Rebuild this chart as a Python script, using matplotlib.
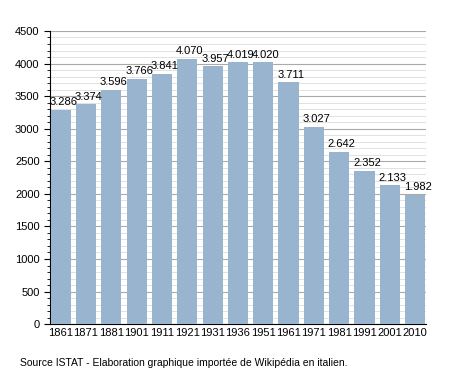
import matplotlib
matplotlib.use("Agg")
import matplotlib.pyplot as plt
from matplotlib.ticker import MultipleLocator

years = ['1861', '1871', '1881', '1901', '1911', '1921', '1931', '1936',
         '1951', '1961', '1971', '1981', '1991', '2001', '2010']
population = [3286, 3374, 3596, 3766, 3841, 4070, 3957, 4019,
              4020, 3711, 3027, 2642, 2352, 2133, 1982]

plt.rcParams['font.family'] = ['Liberation Sans', 'DejaVu Sans']

fig = plt.figure(figsize=(4.55, 3.73), dpi=100)
ax = fig.add_axes([0.110, 0.131, 0.826, 0.786])

x = range(len(years))
ax.bar(x, population, width=0.8, color='#98b4cf', zorder=3)

for i, v in enumerate(population):
    label = f"{v // 1000}.{v % 1000:03d}"
    ax.text(i + 0.1, v + 40, label, ha='center', va='bottom', fontsize=8, zorder=4)

ax.set_xlim(-0.42, 14.42)
ax.set_ylim(0, 4500)
ax.yaxis.set_major_locator(MultipleLocator(500))
ax.yaxis.set_minor_locator(MultipleLocator(100))
ax.grid(which='major', axis='y', color='#aaaaaa', linewidth=0.8, zorder=0)
ax.grid(which='minor', axis='y', color='#dddddd', linewidth=0.6, zorder=0)

ax.set_xticks(list(x))
ax.set_xticklabels(years, fontsize=8)
ax.tick_params(axis='x', length=0, pad=3)
ax.tick_params(axis='y', which='major', length=4, labelsize=8)
ax.tick_params(axis='y', which='minor', length=2)

for s in ['top', 'right']:
    ax.spines[s].set_visible(False)

fig.text(0.044, 0.02, "Source ISTAT - Elaboration graphique importée de Wikipédia en italien.",
         fontsize=7.5)

fig.savefig('out.png', dpi=100)
